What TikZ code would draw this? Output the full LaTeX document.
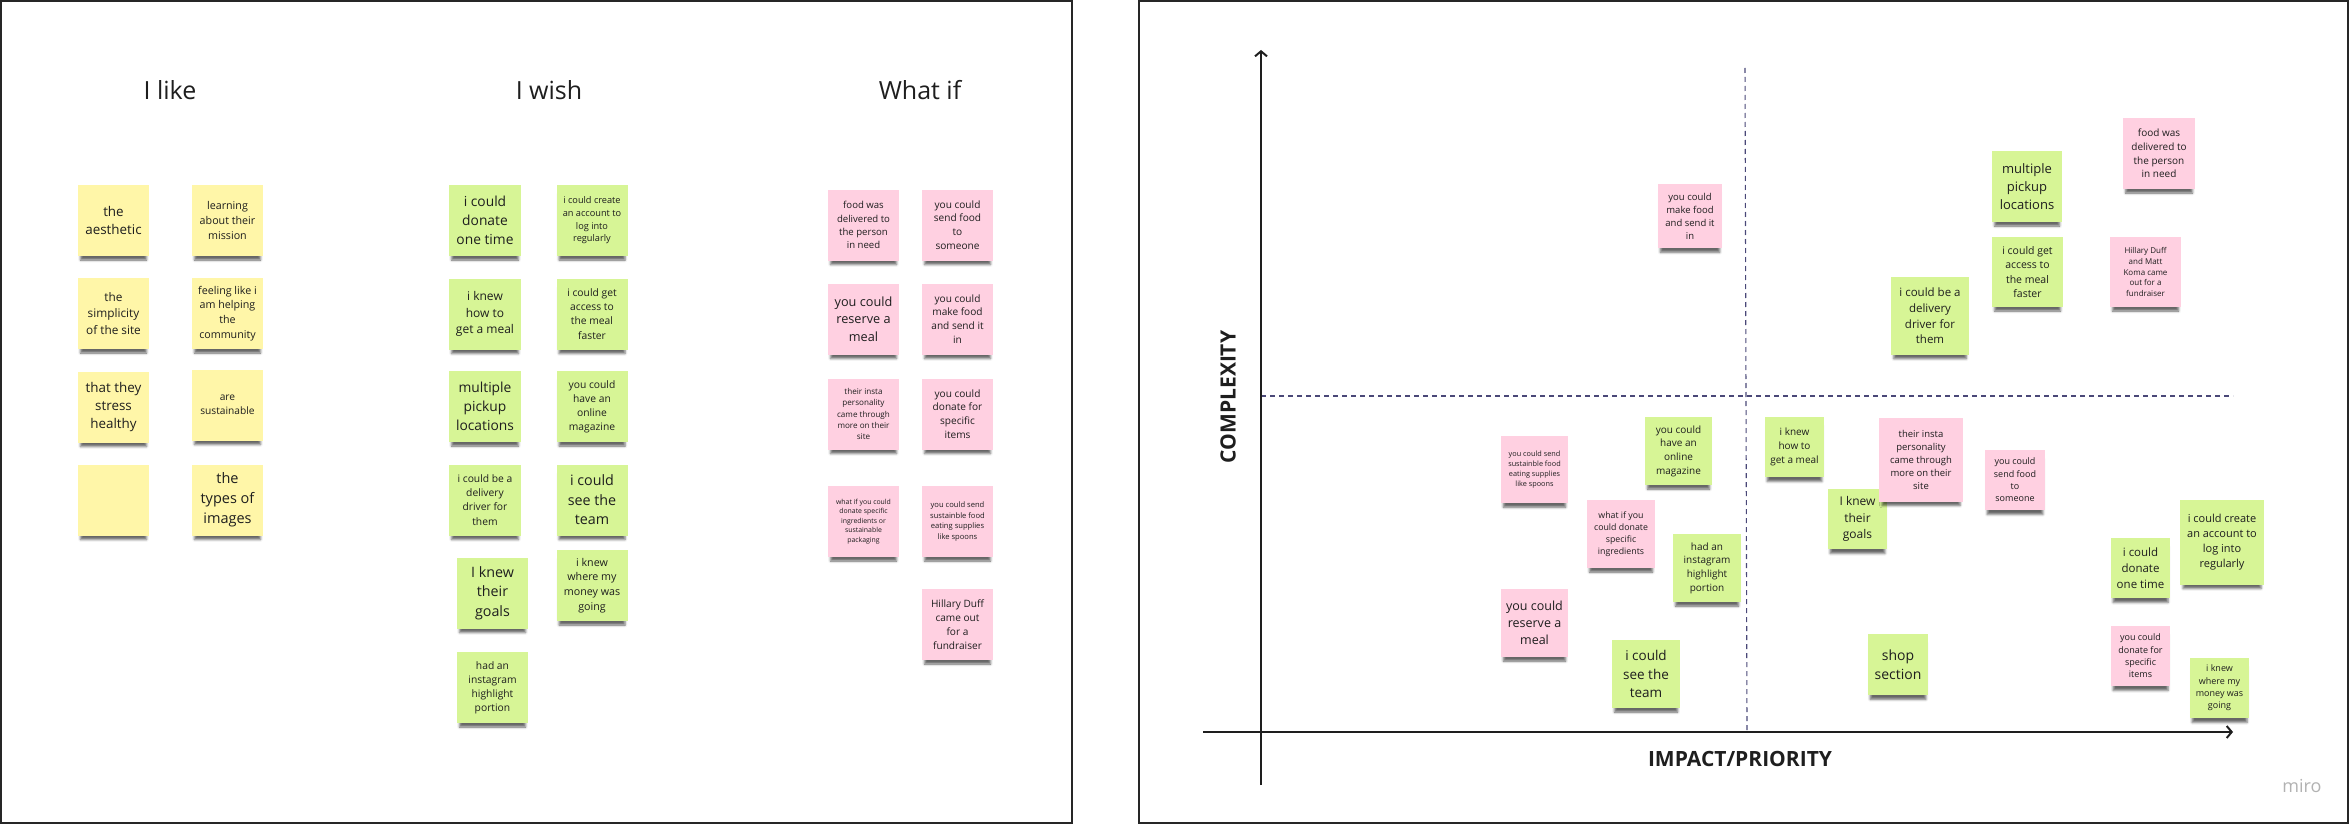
\documentclass[tikz,border=0pt]{standalone}
\usepackage{fontspec}
\setmainfont{Open Sans}
\usetikzlibrary{arrows.meta,shadows.blur}
\definecolor{noteyellow}{HTML}{FFF6A8}
\definecolor{notegreen}{HTML}{D7F596}
\definecolor{notepink}{HTML}{FFD0E1}
\definecolor{ink}{HTML}{1E1E1E}
\definecolor{gridline}{HTML}{4A4878}
\newcommand\notesize[1]{\fontsize{#1}{\fpeval{1.37*#1}}\selectfont}
\tikzset{
  note/.style={inner sep=1pt, align=center, text=ink,
    blur shadow={shadow xshift=0pt, shadow yshift=-7pt, shadow scale=0.93,
      shadow blur radius=2.5pt, shadow opacity=60}},
  yellownote/.style={note, fill=noteyellow},
  greennote/.style={note, fill=notegreen},
  pinknote/.style={note, fill=notepink},
  wh/.style 2 args={minimum width=#1, minimum height=#2},
  fs/.style={font=\notesize{#1}},
  boardtitle/.style={text=ink, font=\fontsize{25}{30}\selectfont},
  axislabel/.style={text=ink, font=\bfseries\fontsize{21}{25}\selectfont},
  frame/.style={draw=black!85, line width=2pt},
  axis/.style={draw=ink, line width=2pt, -{Straight Barb[length=5pt,width=12pt,line width=2pt]}},
  divider/.style={draw=gridline, line width=1.1pt, dash pattern=on 5pt off 4pt}
}

\begin{document}
\begin{tikzpicture}[x=1pt, y=-1pt]
  \useasboundingbox (0,0) rectangle (2350,824);
  % frames
  \draw[frame] (1,1) rectangle (1072,823);
  \draw[frame] (1139,1) rectangle (2348,823);

  % I like / I wish / What if board
  \node[boardtitle] (liketitle) at (170,90) {I like};
  \node[boardtitle] (wishtitle) at (549,90) {I wish};
  \node[boardtitle] (whatiftitle) at (920,90) {What if};

  \node[yellownote, wh={71}{71}, fs=13.4] (like1) at (113.5,220.5) {the\\aesthetic};
  \node[yellownote, wh={71}{71}, fs=10.7] (like2) at (227.5,220.5) {learning\\about their\\mission};
  \node[yellownote, wh={71}{71}, fs=11.8] (like3) at (113.5,313.5) {the\\simplicity\\of the site};
  \node[yellownote, wh={71}{71}, fs=10.7] (like4) at (227.5,313.5) {feeling like i\\am helping\\the\\community};
  \node[yellownote, wh={71}{71}, fs=13.4] (like5) at (113.5,407) {that they\\stress\\healthy};
  \node[yellownote, wh={71}{71}, fs=10.2] (like6) at (227.5,405) {are\\sustainable};
  \node[yellownote, wh={71}{71}] (like7) at (113.5,500) {};
  \node[yellownote, wh={71}{71}, fs=14.5] (like8) at (227.5,500) {the\\types of\\images};

  \node[greennote, wh={72}{71}, fs=13.8] (wish1) at (485,220.5) {i could\\donate\\one time};
  \node[greennote, wh={71}{71}, fs=9.2] (wish2) at (592,220.5) {i could create\\an account to\\log into\\regularly};
  \node[greennote, wh={72}{71}, fs=12] (wish3) at (485,314) {i knew\\how to\\get a meal};
  \node[greennote, wh={71}{71}, fs=10.3] (wish4) at (592,314) {i could get\\access to\\the meal\\faster};
  \node[greennote, wh={72}{71}, fs=13.8] (wish5) at (485,406.5) {multiple\\pickup\\locations};
  \node[greennote, wh={71}{71}, fs=10.3] (wish6) at (592,406.5) {you could\\have an\\online\\magazine};
  \node[greennote, wh={72}{71}, fs=10.3] (wish7) at (485,500) {i could be a\\delivery\\driver for\\them};
  \node[greennote, wh={71}{71}, fs=14.3] (wish8) at (592,500) {i could\\see the\\team};
  \node[greennote, wh={71}{71}, fs=14.3] (wish9) at (492.5,593) {I knew\\their\\goals};
  \node[greennote, wh={71}{71}, fs=10.7] (wish10) at (592,585.5) {i knew\\where my\\money was\\going};
  \node[greennote, wh={71}{71}, fs=10.3] (wish11) at (492.5,687.5) {had an\\instagram\\highlight\\portion};

  \node[pinknote, wh={71}{71}, fs=9.6] (whatif1) at (863.5,225) {food was\\delivered to\\the person\\in need};
  \node[pinknote, wh={71}{71}, fs=10.1] (whatif2) at (957.5,225) {you could\\send food\\to\\someone};
  \node[pinknote, wh={71}{71}, fs=12.7] (whatif3) at (863.5,319) {you could\\reserve a\\meal};
  \node[pinknote, wh={71}{71}, fs=10.1] (whatif4) at (957.5,319) {you could\\make food\\and send it\\in};
  \node[pinknote, wh={71}{71}, fs=8.1] (whatif5) at (863.5,414) {their insta\\personality\\came through\\more on their\\site};
  \node[pinknote, wh={71}{71}, fs=10.1] (whatif6) at (957.5,414) {you could\\donate for\\specific\\items};
  \node[pinknote, wh={71}{71}, fs=6.9] (whatif7) at (863.5,521.5) {what if you could\\donate specific\\ingredients or\\sustainable\\packaging};
  \node[pinknote, wh={71}{71}, fs=7.6] (whatif8) at (957.5,521.5) {you could send\\sustainble food\\eating supplies\\like spoons};
  \node[pinknote, wh={71}{71}, fs=10.1] (whatif9) at (957.5,624.5) {Hillary Duff\\came out\\for a\\fundraiser};

  % impact / complexity matrix
  \coordinate (yfoot) at (1261,785);
  \coordinate (ytop) at (1261,50);
  \coordinate (xfoot) at (1203,732);
  \coordinate (xtip) at (2233,732);
  \coordinate (hleft) at (1261,396);
  \coordinate (hright) at (2233,396);
  \coordinate (vtop) at (1745,68);
  \coordinate (vfoot) at (1747,732);
  \draw[divider] (hleft) -- (hright);
  \draw[divider] (vtop) -- (vfoot);
  \draw[axis] (yfoot) -- (ytop);
  \draw[axis] (xfoot) -- (xtip);
  \node[axislabel, rotate=90] (ylabel) at (1228,397) {COMPLEXITY};
  \node[axislabel] (xlabel) at (1740,759) {IMPACT/PRIORITY};

  \node[pinknote, wh={64}{64}, fs=9.5] (mmake) at (1690,216) {you could\\make food\\and send it\\in};
  \node[greennote, wh={70}{71}, fs=13] (mpickup) at (2027,186.5) {multiple\\pickup\\locations};
  \node[greennote, wh={71}{70}, fs=10.5] (maccess) at (2027.5,272) {i could get\\access to\\the meal\\faster};
  \node[greennote, wh={78}{78}, fs=11.5] (mdriver) at (1930,316) {i could be a\\delivery\\driver for\\them};
  \node[pinknote, wh={72}{71}, fs=10] (mdelivered) at (2159,153.5) {food was\\delivered to\\the person\\in need};
  \node[pinknote, wh={71}{70}, fs=8] (mhillary) at (2145.5,272) {Hillary Duff\\and Matt\\Koma came\\out for a\\fundraiser};
  \node[pinknote, wh={67}{67}, fs=7.3] (mspoons) at (1534.5,469.5) {you could send\\sustainble food\\eating supplies\\like spoons};
  \node[greennote, wh={67}{68}, fs=10] (mmagazine) at (1678.5,451) {you could\\have an\\online\\magazine};
  \node[pinknote, wh={68}{68}, fs=8.8] (mingredients) at (1621,534) {what if you\\could donate\\specific\\ingredients};
  \node[greennote, wh={68}{68}, fs=10] (minstagram) at (1707,568) {had an\\instagram\\highlight\\portion};
  \node[pinknote, wh={67}{68}, fs=12.5] (mreserve) at (1534.5,623) {you could\\reserve a\\meal};
  \node[greennote, wh={68}{68}, fs=13.5] (mteam) at (1646,674) {i could\\see the\\team};
  \node[greennote, wh={59}{60}, fs=10] (mmeal) at (1794.5,447) {i knew\\how to\\get a meal};
  \node[greennote, wh={59}{60}, fs=12] (mgoals) at (1857.5,519) {I knew\\their\\goals};
  \node[pinknote, wh={84}{84}, fs=9.5] (minsta) at (1921,460) {their insta\\personality\\came through\\more on their\\site};
  \node[pinknote, wh={60}{60}, fs=9] (msend) at (2015,480) {you could\\send food\\to\\someone};
  \node[greennote, wh={84}{85}, fs=11] (maccount) at (2222,542.5) {i could create\\an account to\\log into\\regularly};
  \node[greennote, wh={59}{60}, fs=11.5] (mdonate) at (2140.5,568) {i could\\donate\\one time};
  \node[pinknote, wh={59}{60}, fs=9] (mitems) at (2140.5,656) {you could\\donate for\\specific\\items};
  \node[greennote, wh={59}{60}, fs=9] (mmoney) at (2219.5,688) {i knew\\where my\\money was\\going};
  \node[greennote, wh={60}{61}, fs=14] (mshop) at (1898,664.5) {shop\\section};

  \node[text=black!30, font=\fontsize{18}{20}\selectfont] (miro) at (2302,786) {miro};
\end{tikzpicture}
\end{document}
